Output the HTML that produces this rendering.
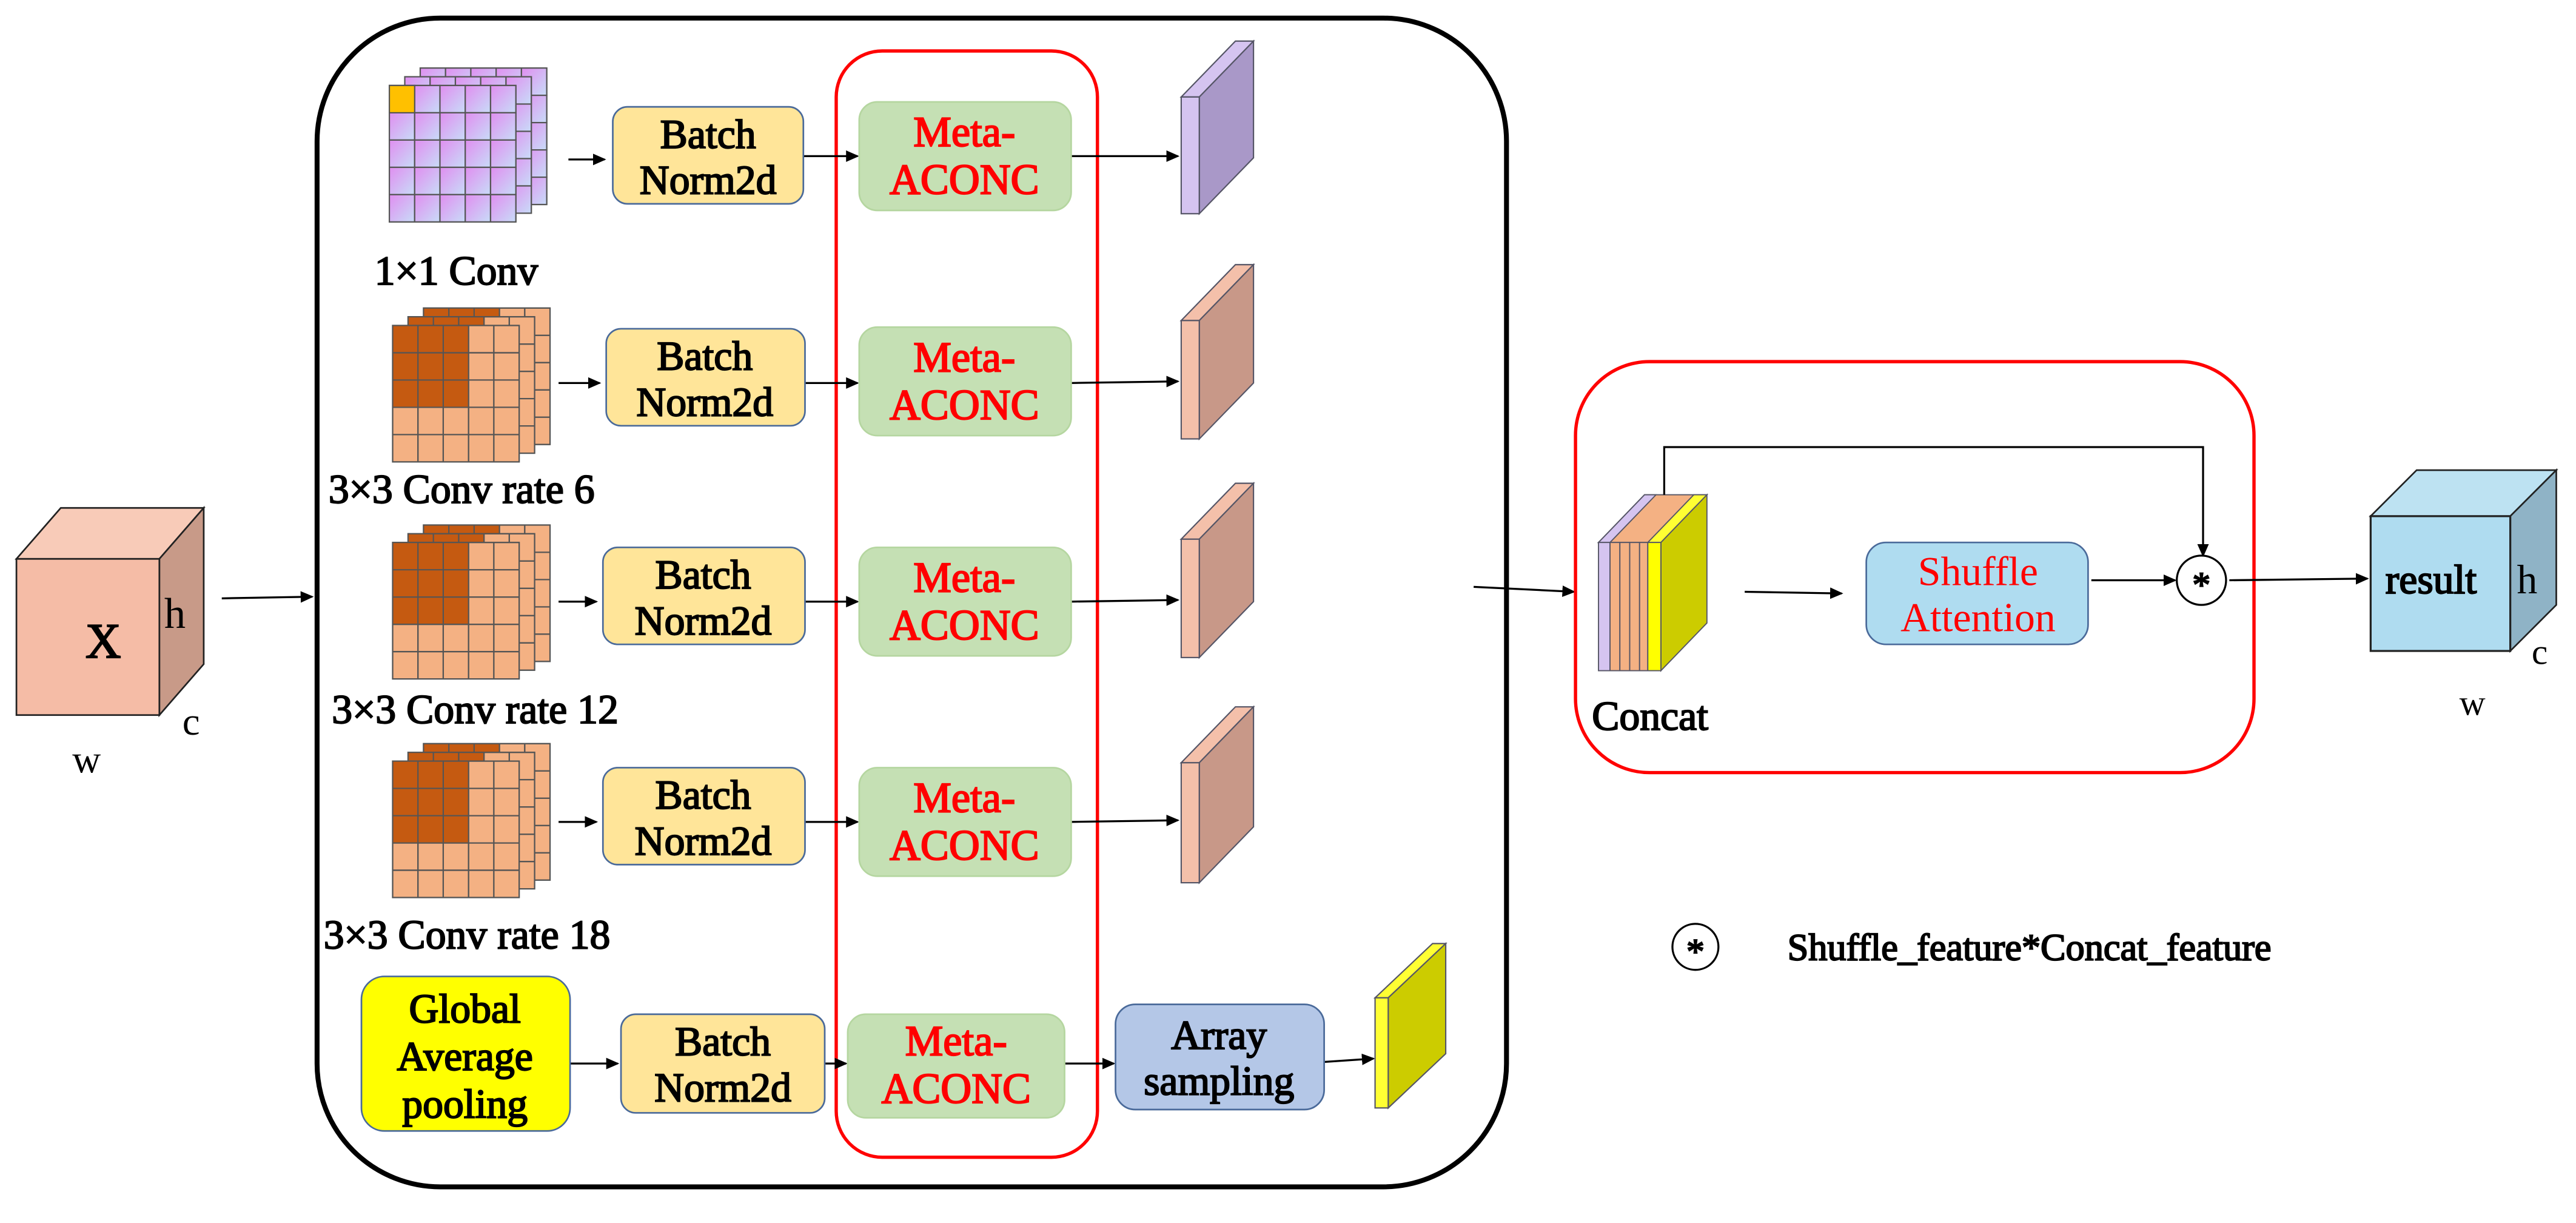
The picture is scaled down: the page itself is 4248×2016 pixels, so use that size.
<!DOCTYPE html>
<html><head><meta charset="utf-8"><style>
html,body{margin:0;padding:0;background:#fff;}
svg{display:block;}
</style></head><body>
<svg width="4248" height="2016" viewBox="0 0 1568 744" preserveAspectRatio="none" xmlns="http://www.w3.org/2000/svg" font-family="'Liberation Serif', serif">
<defs>
<marker id="ar" markerWidth="8" markerHeight="8" refX="7" refY="4" orient="auto" markerUnits="userSpaceOnUse">
<path d="M0,0.5 L8,4 L0,7.5 z" fill="#000"/></marker>
<linearGradient id="pg" x1="0" y1="0" x2="1" y2="1">
<stop offset="0" stop-color="#e08ef0"/><stop offset="1" stop-color="#c8dcf8"/></linearGradient>
<g id="pgrid">
<rect x="0" y="0" width="77" height="83" fill="#d9b0f0" stroke="#555" stroke-width="0.8"/>
<g fill="url(#pg)" stroke="#555" stroke-width="0.8">
<rect x="0" y="0" width="15.4" height="16.6"/><rect x="15.4" y="0" width="15.4" height="16.6"/><rect x="30.8" y="0" width="15.4" height="16.6"/><rect x="46.2" y="0" width="15.4" height="16.6"/><rect x="61.6" y="0" width="15.4" height="16.6"/>
<rect x="0" y="16.6" width="15.4" height="16.6"/><rect x="15.4" y="16.6" width="15.4" height="16.6"/><rect x="30.8" y="16.6" width="15.4" height="16.6"/><rect x="46.2" y="16.6" width="15.4" height="16.6"/><rect x="61.6" y="16.6" width="15.4" height="16.6"/>
<rect x="0" y="33.2" width="15.4" height="16.6"/><rect x="15.4" y="33.2" width="15.4" height="16.6"/><rect x="30.8" y="33.2" width="15.4" height="16.6"/><rect x="46.2" y="33.2" width="15.4" height="16.6"/><rect x="61.6" y="33.2" width="15.4" height="16.6"/>
<rect x="0" y="49.8" width="15.4" height="16.6"/><rect x="15.4" y="49.8" width="15.4" height="16.6"/><rect x="30.8" y="49.8" width="15.4" height="16.6"/><rect x="46.2" y="49.8" width="15.4" height="16.6"/><rect x="61.6" y="49.8" width="15.4" height="16.6"/>
<rect x="0" y="66.4" width="15.4" height="16.6"/><rect x="15.4" y="66.4" width="15.4" height="16.6"/><rect x="30.8" y="66.4" width="15.4" height="16.6"/><rect x="46.2" y="66.4" width="15.4" height="16.6"/><rect x="61.6" y="66.4" width="15.4" height="16.6"/>
</g></g>
<g id="ogridb">
<rect x="0" y="0" width="77" height="83" fill="#f4b183" stroke="#555" stroke-width="0.8"/>
<g stroke="#555" stroke-width="0.8">
<line x1="15.4" y1="0" x2="15.4" y2="83"/><line x1="30.8" y1="0" x2="30.8" y2="83"/><line x1="46.2" y1="0" x2="46.2" y2="83"/><line x1="61.6" y1="0" x2="61.6" y2="83"/>
<line x1="0" y1="16.6" x2="77" y2="16.6"/><line x1="0" y1="33.2" x2="77" y2="33.2"/><line x1="0" y1="49.8" x2="77" y2="49.8"/><line x1="0" y1="66.4" x2="77" y2="66.4"/>
</g></g>
<g id="ogrid">
<use href="#ogridb"/>
<rect x="0" y="0" width="46.2" height="49.8" fill="#c55a11"/>
<g stroke="#555" stroke-width="0.8">
<line x1="15.4" y1="0" x2="15.4" y2="83"/><line x1="30.8" y1="0" x2="30.8" y2="83"/><line x1="46.2" y1="0" x2="46.2" y2="83"/><line x1="61.6" y1="0" x2="61.6" y2="83"/>
<line x1="0" y1="16.6" x2="77" y2="16.6"/><line x1="0" y1="33.2" x2="77" y2="33.2"/><line x1="0" y1="49.8" x2="77" y2="49.8"/><line x1="0" y1="66.4" x2="77" y2="66.4"/>
<rect x="0" y="0" width="77" height="83" fill="none"/>
</g></g>
</defs>

<polygon points="10,340 37,309 124,309 97,340" fill="#f8cbb8" stroke="#222" stroke-width="1"/>
<polygon points="97,340 124,309 124,404 97,435" fill="#c89a88" stroke="#222" stroke-width="1"/>
<rect x="10" y="340" width="87" height="95" fill="#f5bca6" stroke="#222" stroke-width="1"/>
<text x="100" y="382" font-size="26">h</text>
<text x="111" y="447" font-size="24">c</text>
<text x="44" y="470" font-size="24">w</text>
<line x1="135" y1="364" x2="190" y2="363" stroke="#000" stroke-width="1.2" marker-end="url(#ar)"/>

<rect x="193" y="11" width="724" height="711" rx="75" fill="none" stroke="#000" stroke-width="3"/>
<rect x="509" y="31" width="159" height="673" rx="28" fill="none" stroke="#f00" stroke-width="2"/>

<use href="#pgrid" x="255.8" y="41.4"/>
<use href="#pgrid" x="246.4" y="46.7"/>
<use href="#pgrid" x="237" y="52"/>
<rect x="237" y="52" width="15.4" height="16.6" fill="#ffc000" stroke="#555" stroke-width="0.8"/>
<use href="#ogrid" x="257.8" y="187.4"/><use href="#ogrid" x="248.4" y="192.7"/><use href="#ogrid" x="239" y="198"/>
<use href="#ogrid" x="257.8" y="319.4"/><use href="#ogrid" x="248.4" y="324.7"/><use href="#ogrid" x="239" y="330"/>
<use href="#ogrid" x="257.8" y="452.4"/><use href="#ogrid" x="248.4" y="457.7"/><use href="#ogrid" x="239" y="463"/>

<g stroke="#000" stroke-width="1.2" fill="none">
<line x1="346" y1="97" x2="368" y2="97" marker-end="url(#ar)"/>
<line x1="489" y1="95" x2="522" y2="95" marker-end="url(#ar)"/>
<line x1="652" y1="95" x2="717" y2="95" marker-end="url(#ar)"/>
<line x1="340" y1="233" x2="365" y2="233" marker-end="url(#ar)"/>
<line x1="490" y1="233" x2="522" y2="233" marker-end="url(#ar)"/>
<line x1="652" y1="233" x2="717" y2="232" marker-end="url(#ar)"/>
<line x1="340" y1="366" x2="363" y2="366" marker-end="url(#ar)"/>
<line x1="490" y1="366" x2="522" y2="366" marker-end="url(#ar)"/>
<line x1="652" y1="366" x2="717" y2="365" marker-end="url(#ar)"/>
<line x1="340" y1="500" x2="363" y2="500" marker-end="url(#ar)"/>
<line x1="490" y1="500" x2="522" y2="500" marker-end="url(#ar)"/>
<line x1="652" y1="500" x2="717" y2="499" marker-end="url(#ar)"/>
<line x1="347" y1="647" x2="376" y2="647" marker-end="url(#ar)"/>
<line x1="502" y1="647" x2="515" y2="647" marker-end="url(#ar)"/>
<line x1="648" y1="647" x2="678" y2="647" marker-end="url(#ar)"/>
<line x1="806" y1="646" x2="836" y2="644" marker-end="url(#ar)"/>
</g>

<g fill="#ffe599" stroke="#4a6a9a" stroke-width="1">
<rect x="373" y="65" width="116" height="59" rx="9"/>
<rect x="369" y="200" width="121" height="59" rx="9"/>
<rect x="367" y="333" width="123" height="59" rx="9"/>
<rect x="367" y="467" width="123" height="59" rx="9"/>
<rect x="378" y="617" width="124" height="60" rx="9"/>
</g>
<g fill="#c5e0b4" stroke="#b5d6a0" stroke-width="1">
<rect x="523" y="62" width="129" height="66" rx="11"/>
<rect x="523" y="199" width="129" height="66" rx="11"/>
<rect x="523" y="333" width="129" height="66" rx="11"/>
<rect x="523" y="467" width="129" height="66" rx="11"/>
<rect x="516" y="617" width="132" height="63" rx="11"/>
</g>
<rect x="220" y="594" width="127" height="94" rx="14" fill="#ffff00" stroke="#4a6a9a" stroke-width="1"/>
<rect x="679" y="611" width="127" height="64" rx="12" fill="#b4c7e7" stroke="#4a6a9a" stroke-width="1"/>

<g stroke="#556" stroke-width="0.8">
<polygon points="719,59 752,25 763,25 730,59" fill="#d5c4f0"/>
<polygon points="730,59 763,25 763,96 730,130" fill="#a998c8"/>
<rect x="719" y="59" width="11" height="71" fill="#d5c4f0"/>
<polygon points="719,195 752,161 763,161 730,195" fill="#f4c0aa"/>
<polygon points="730,195 763,161 763,233 730,267" fill="#c89888"/>
<rect x="719" y="195" width="11" height="72" fill="#f4c0aa"/>
<polygon points="719,328 752,294 763,294 730,328" fill="#f4c0aa"/>
<polygon points="730,328 763,294 763,366 730,400" fill="#c89888"/>
<rect x="719" y="328" width="11" height="72" fill="#f4c0aa"/>
<polygon points="719,464 752,430 763,430 730,464" fill="#f4c0aa"/>
<polygon points="730,464 763,430 763,503 730,537" fill="#c89888"/>
<rect x="719" y="464" width="11" height="73" fill="#f4c0aa"/>
<polygon points="837,607 872,574 880,574 845,607" fill="#ffff33"/>
<polygon points="845,607 880,574 880,641 845,674" fill="#cccc00"/>
<rect x="837" y="607" width="8" height="67" fill="#ffff33"/>
</g>

<line x1="897" y1="357" x2="958" y2="360" stroke="#000" stroke-width="1.2" marker-end="url(#ar)"/>
<rect x="959" y="220" width="413" height="250" rx="45" fill="none" stroke="#f00" stroke-width="2"/>

<g stroke="#556" stroke-width="0.7">
<polygon points="973,330 1001,301 1039,301 1011,330" fill="#f4b183"/>
<polygon points="973,330 1001,301 1008,301 980,330" fill="#d5c4f0"/>
<polygon points="1003,330 1031,301 1039,301 1011,330" fill="#ffff33"/>
<polygon points="1011,330 1039,301 1039,379 1011,408" fill="#cccc00"/>
<rect x="973" y="330" width="7" height="78" fill="#d5c4f0"/>
<rect x="980" y="330" width="6" height="78" fill="#f4b183"/>
<rect x="986" y="330" width="6" height="78" fill="#f4b183"/>
<rect x="992" y="330" width="6" height="78" fill="#f4b183"/>
<rect x="998" y="330" width="5" height="78" fill="#f4b183"/>
<rect x="1003" y="330" width="8" height="78" fill="#ffff00"/>
</g>

<polyline points="1013,301 1013,272 1341,272 1341,338" fill="none" stroke="#000" stroke-width="1.2" marker-end="url(#ar)"/>
<line x1="1062" y1="360" x2="1121" y2="361" stroke="#000" stroke-width="1.2" marker-end="url(#ar)"/>
<rect x="1136" y="330" width="135" height="62" rx="12" fill="#afdcf0" stroke="#4a6a9a" stroke-width="1"/>
<g font-size="25" text-anchor="middle" fill="#f00">
<text x="1204" y="356">Shuffle</text><text x="1204" y="384">Attention</text>
</g>
<line x1="1273" y1="353" x2="1324" y2="353" stroke="#000" stroke-width="1.2" marker-end="url(#ar)"/>
<circle cx="1340" cy="353" r="15" fill="#fff" stroke="#000" stroke-width="1.2"/>
<line x1="1357" y1="353" x2="1441" y2="352" stroke="#000" stroke-width="1.2" marker-end="url(#ar)"/>

<polygon points="1443,314 1471,286 1556,286 1528,314" fill="#bde2f2" stroke="#222" stroke-width="1"/>
<polygon points="1528,314 1556,286 1556,368 1528,396" fill="#8fb3c6" stroke="#222" stroke-width="1"/>
<rect x="1443" y="314" width="85" height="82" fill="#afdcf0" stroke="#222" stroke-width="1.2"/>
<text x="1532" y="361" font-size="25">h</text>
<text x="1541" y="404" font-size="22">c</text>
<text x="1497" y="435" font-size="22">w</text>
<circle cx="1032" cy="576" r="14" fill="#fff" stroke="#000" stroke-width="1.2"/>

<!-- black bold-ish texts -->
<g fill="#000" stroke="#000" stroke-width="0.8" font-size="25">
<text x="52" y="400" font-size="30">X</text>
<text x="228" y="173">1×1 Conv</text>
<text x="200" y="306">3×3 Conv rate 6</text>
<text x="202" y="440">3×3 Conv rate 12</text>
<text x="197" y="577">3×3 Conv rate 18</text>
<text x="969" y="444">Concat</text>
<text x="1452" y="361">result</text>
<text x="1340" y="363" font-size="22" text-anchor="middle">*</text>
<text x="1032" y="586" font-size="22" text-anchor="middle">*</text>
<text x="1088" y="584" font-size="23">Shuffle_feature*Concat_feature</text>
</g>
<g fill="#000" stroke="#000" stroke-width="0.8" font-size="25" text-anchor="middle">
<text x="431" y="90">Batch</text><text x="431" y="118">Norm2d</text>
<text x="429" y="225">Batch</text><text x="429" y="253">Norm2d</text>
<text x="428" y="358">Batch</text><text x="428" y="386">Norm2d</text>
<text x="428" y="492">Batch</text><text x="428" y="520">Norm2d</text>
<text x="440" y="642">Batch</text><text x="440" y="670">Norm2d</text>
<text x="283" y="622">Global</text><text x="283" y="651">Average</text><text x="283" y="680">pooling</text>
<text x="742" y="638">Array</text><text x="742" y="666">sampling</text>
</g>
<g fill="#f00" stroke="#f00" stroke-width="0.8" font-size="26" text-anchor="middle">
<text x="587" y="89">Meta-</text><text x="587" y="118">ACONC</text>
<text x="587" y="226">Meta-</text><text x="587" y="255">ACONC</text>
<text x="587" y="360">Meta-</text><text x="587" y="389">ACONC</text>
<text x="587" y="494">Meta-</text><text x="587" y="523">ACONC</text>
<text x="582" y="642">Meta-</text><text x="582" y="671">ACONC</text>
</g>
</svg>
</body></html>
